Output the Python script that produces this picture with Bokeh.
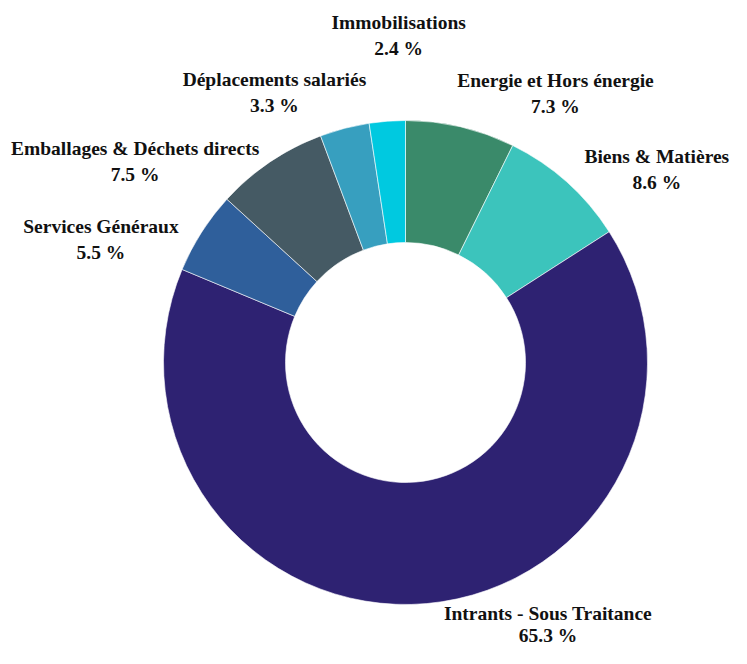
import math
from bokeh.plotting import figure
from bokeh.models import ColumnDataSource, Range1d
from bokeh.core.properties import value
from bokeh.embed import file_html
from bokeh.resources import INLINE

# ---- data ----
categories = ["Energie et Hors énergie", "Biens & Matières", "Intrants - Sous Traitance",
              "Services Généraux", "Emballages & Déchets directs", "Déplacements salariés",
              "Immobilisations"]
percents = [7.3, 8.6, 65.3, 5.5, 7.5, 3.3, 2.4]

# ---- styles / layout ----
colors = ["#3a8a6a", "#3cc4bc", "#2e2272", "#2f5f9b", "#455a64", "#379fbf", "#00c9e0"]
# label nudges in screen pixels (right, down) relative to anchor at label radius
label_nudges = [(84, 13), (58, 23), (117, -27), (-60, 33), (-108, 39), (-58, 11), (15, -38)]
line_gaps = [13, 13, 11, 13, 13, 13, 13]

W, H = 731, 648
IMG_H = 664
cx, cy_img = 405, 362
cy = IMG_H - cy_img
R_OUT, R_IN, R_LAB = 242, 120, 290

total = sum(percents)
starts, ends, mids = [], [], []
cum = 0.0
for v in percents:
    f0 = cum / total
    cum += v
    f1 = cum / total
    starts.append(math.pi / 2 - 2 * math.pi * f0)
    ends.append(math.pi / 2 - 2 * math.pi * f1)
    mids.append(2 * math.pi * (f0 + f1) / 2)

src = ColumnDataSource(dict(start=starts, end=ends, color=colors, cat=categories))

p = figure(width=W, height=H, output_backend="svg", toolbar_location=None,
           x_range=Range1d(0, W), y_range=Range1d(IMG_H - H, IMG_H),
           min_border=0)
p.axis.visible = False
p.grid.visible = False
p.outline_line_color = None
p.background_fill_color = "white"
p.border_fill_color = "white"

p.annular_wedge(x=cx, y=cy, inner_radius=R_IN, outer_radius=R_OUT,
                start_angle="start", end_angle="end", direction="clock",
                fill_color="color", line_color="white", line_width=0.6, source=src)

name_x, name_y, pct_x, pct_y, pct_txt = [], [], [], [], []
for a, (dx, dy), g, v in zip(mids, label_nudges, line_gaps, percents):
    ax = cx + R_LAB * math.sin(a) + dx
    ay_img = cy_img - R_LAB * math.cos(a) + dy
    name_x.append(ax)
    name_y.append(IMG_H - (ay_img - g))
    pct_x.append(ax)
    pct_y.append(IMG_H - (ay_img + g))
    pct_txt.append(f"{v} %")

p.text(x=name_x, y=name_y, text=categories, text_align="center", text_baseline="middle",
       text_font=value("Liberation Serif"), text_font_style="bold",
       text_font_size="19.5px", text_color="#111111")
p.text(x=pct_x, y=pct_y, text=pct_txt, text_align="center", text_baseline="middle",
       text_font=value("Liberation Serif"), text_font_style="bold",
       text_font_size="19.5px", text_color="#111111")

open("out.html", "w").write(file_html(p, INLINE))
